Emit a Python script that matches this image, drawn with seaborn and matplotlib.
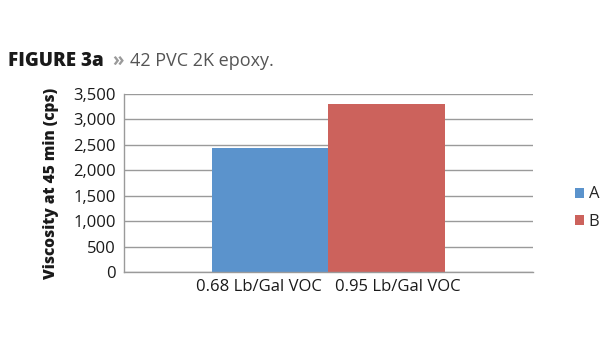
import matplotlib
matplotlib.use("Agg")
import matplotlib.pyplot as plt
import seaborn as sns
import pandas as pd
from matplotlib.ticker import FuncFormatter, MultipleLocator
from matplotlib.patches import Patch

categories = ["0.68 Lb/Gal VOC", "0.95 Lb/Gal VOC"]
series = ["A", "B"]
values = [2430, 3300]
colors = ["#5B93CC", "#CC625C"]

df = pd.DataFrame({"group": ["   ".join(categories)] * 2, "series": series, "value": values})

sns.set_theme(style="white")
plt.rcParams['font.family'] = ['Open Sans', 'DejaVu Sans']

fig = plt.figure(figsize=(6.15, 3.5), dpi=100)
ax = fig.add_axes([0.2016, 0.2229, 0.6650, 0.5085])

sns.barplot(data=df, x="group", y="value", hue="series", palette=colors,
            width=0.57, ax=ax, legend=False, saturation=1, linewidth=0)

ax.set_ylim(0, 3500)
ax.yaxis.set_major_locator(MultipleLocator(500))
ax.yaxis.set_major_formatter(FuncFormatter(lambda v, p: f"{int(v):,}"))
ax.set_xlim(-0.5, 0.5)
ax.grid(axis="y", color="#9a9a9a", linewidth=1)
ax.set_axisbelow(True)
for s in ["top", "right"]:
    ax.spines[s].set_visible(False)
for s in ["left", "bottom"]:
    ax.spines[s].set_color("#9a9a9a")
    ax.spines[s].set_linewidth(1)
ax.tick_params(axis="y", length=4, color="#9a9a9a", labelsize=12, pad=2, labelcolor="#1a1a1a")
ax.tick_params(axis="x", length=0, labelsize=12, pad=5, labelcolor="#1a1a1a")
ax.set_xlabel("")
ax.set_ylabel("Viscosity at 45 min (cps)", fontsize=11.2, fontweight="heavy", color="#1a1a1a", labelpad=10)

handles = [Patch(facecolor=c, edgecolor="none", label=s) for s, c in zip(series, colors)]
fig.legend(handles=handles, loc="center left", bbox_to_anchor=(0.91, 0.405), frameon=False,
           fontsize=12, handlelength=0.55, handleheight=0.55, handletextpad=0.3, labelspacing=0.7)

fig.text(0.013, 0.81, "FIGURE 3a", fontsize=13.5, fontweight="heavy", color="#1a1a1a")
fig.text(0.182, 0.81, "»", fontsize=13.5, fontweight="bold", color="#9a9a9a")
fig.text(0.212, 0.81, "42 PVC 2K epoxy.", fontsize=13, color="#555555")

fig.savefig("out.png", dpi=100)
